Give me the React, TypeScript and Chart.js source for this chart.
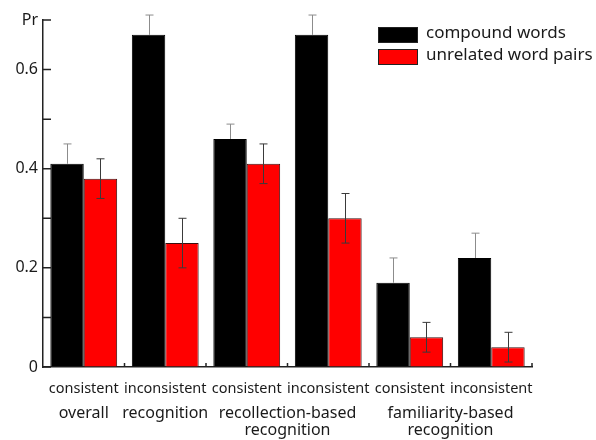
import React, { useEffect, useRef } from "react";
import { Chart, registerables } from "chart.js";
Chart.register(...registerables);

const categories = ["consistent", "inconsistent", "consistent", "inconsistent", "consistent", "inconsistent"];
const groupLabels = [["overall"], ["recognition"], ["recollection-based", "recognition"], ["familiarity-based", "recognition"]];
const groupPositions = [0, 1, 2.5, 4.5];
const seriesNames = ["compound words", "unrelated word pairs"];
const compound = [0.41, 0.67, 0.46, 0.67, 0.17, 0.22];
const compoundErr = [0.04, 0.04, 0.03, 0.04, 0.05, 0.05];
const unrelated = [0.38, 0.25, 0.41, 0.3, 0.06, 0.04];
const unrelatedErr = [0.04, 0.05, 0.04, 0.05, 0.03, 0.03];
const yTickValues = [0, 0.1, 0.2, 0.3, 0.4, 0.5, 0.6, 0.7];
const yTickLabels = ["0", "", "0.2", "", "0.4", "", "0.6", "Pr"];

const FONT = "'Noto Sans', 'Open Sans', sans-serif";
const TEXT = "#1a1a1a";
const colors = ["#000000", "#ff0000"];

const overlay = {
  id: "overlay",
  afterDatasetsDraw(chart: any) {
    const ctx = chart.ctx;
    const y = chart.scales.y;
    const x2 = chart.scales.x2;
    const area = chart.chartArea;
    const vals = [compound, unrelated];
    const errs = [compoundErr, unrelatedErr];
    ctx.save();
    ctx.lineWidth = 1;
    vals.forEach((arr, di) => {
      const meta = chart.getDatasetMeta(di);
      meta.data.forEach((bar: any, i: number) => {
        const v = arr[i];
        const e = errs[di][i];
        const px = Math.round(bar.x) + 0.5;
        const top = y.getPixelForValue(v + e);
        const bot = di === 0 ? y.getPixelForValue(v) : y.getPixelForValue(v - e);
        ctx.strokeStyle = di === 0 ? "#8c8c8c" : "#3a3a3a";
        ctx.beginPath();
        ctx.moveTo(px, top);
        ctx.lineTo(px, bot);
        ctx.moveTo(px - 4, top);
        ctx.lineTo(px + 4, top);
        if (di === 1) {
          ctx.moveTo(px - 4, bot);
          ctx.lineTo(px + 4, bot);
        }
        ctx.stroke();
      });
    });
    // inward ticks
    ctx.strokeStyle = "#222";
    ctx.lineWidth = 1.5;
    ctx.beginPath();
    yTickValues.forEach((v) => {
      const py = y.getPixelForValue(v);
      ctx.moveTo(area.left, py);
      ctx.lineTo(area.left + 8, py);
    });
    for (let i = 0; i < categories.length; i++) {
      const px = x2.getPixelForValue(i + 0.5);
      ctx.moveTo(px, area.bottom);
      ctx.lineTo(px, area.bottom - 4);
    }
    ctx.stroke();
    ctx.restore();
  },
  afterDraw(chart: any) {
    const ctx = chart.ctx;
    ctx.save();
    const boxX = 378;
    const rows = [27, 49];
    ctx.font = `17px ${FONT}`;
    ctx.textBaseline = "middle";
    ctx.textAlign = "left";
    seriesNames.forEach((name, i) => {
      ctx.fillStyle = colors[i];
      ctx.fillRect(boxX, rows[i], 40, 16);
      ctx.strokeStyle = "#222";
      ctx.lineWidth = 1;
      ctx.strokeRect(boxX + 0.5, rows[i] + 0.5, 39, 15);
      ctx.fillStyle = TEXT;
      ctx.fillText(name, 426, rows[i] + 6);
    });
    ctx.restore();
  },
};

export default function App() {
  const ref = useRef<HTMLCanvasElement | null>(null);
  useEffect(() => {
    if (!ref.current) return;
    const chart = new Chart(ref.current, {
      type: "bar",
      data: {
        labels: categories,
        datasets: [
          {
            label: seriesNames[0],
            data: compound,
            backgroundColor: colors[0],
            borderColor: "#000",
            borderWidth: 1,
            categoryPercentage: 0.82,
            barPercentage: 1,
            xAxisID: "x",
          },
          {
            label: seriesNames[1],
            data: unrelated,
            backgroundColor: colors[1],
            borderColor: "#3a1010",
            borderWidth: 1,
            categoryPercentage: 0.82,
            barPercentage: 1,
            xAxisID: "x",
          },
        ],
      },
      options: {
        responsive: false,
        animation: false,
        devicePixelRatio: 1,
        layout: { padding: { top: 20, right: 64, left: 0, bottom: 0 } },
        plugins: { legend: { display: false }, tooltip: { enabled: false } },
        scales: {
          x: {
            type: "category",
            position: "bottom",
            weight: 1,
            offset: true,
            grid: { display: true, drawOnChartArea: false, drawTicks: false },
            border: { display: true, color: "#222", width: 1.5 },
            ticks: {
              color: TEXT,
              font: { family: FONT, size: 14.5 },
              padding: 13,
              autoSkip: false,
              maxRotation: 0,
            },
            afterFit(scale: any) {
              scale.height = 32;
            },
          },
          x2: {
            type: "linear",
            position: "bottom",
            weight: 2,
            min: -0.5,
            max: 5.5,
            offset: false,
            grid: { display: false, drawTicks: false },
            border: { display: false },
            afterBuildTicks(scale: any) {
              scale.ticks = groupPositions.map((v) => ({ value: v }));
            },
            ticks: {
              color: TEXT,
              font: { family: FONT, size: 16, lineHeight: 1.12 },
              padding: 5,
              autoSkip: false,
              maxRotation: 0,
              callback: (value: any) => {
                const idx = groupPositions.indexOf(Number(value));
                return idx >= 0 ? groupLabels[idx] : "";
              },
            },
            afterFit(scale: any) {
              scale.height = 41;
            },
          },
          y: {
            type: "linear",
            min: 0,
            max: 0.7,
            grid: { display: true, drawOnChartArea: false, drawTicks: false },
            border: { display: true, color: "#222", width: 1.5 },
            afterBuildTicks(scale: any) {
              scale.ticks = yTickValues.map((v) => ({ value: v }));
            },
            ticks: {
              color: TEXT,
              font: { family: FONT, size: 16 },
              padding: 5,
              callback: (_v: any, i: number) => yTickLabels[i],
            },
            afterFit(scale: any) {
              scale.width = 43;
            },
          },
        },
      },
      plugins: [overlay],
    } as any);
    return () => chart.destroy();
  }, []);
  return (
    <div style={{ position: "fixed", left: 0, top: 0, width: 596, height: 440, background: "#fff" }}>
      <canvas ref={ref} width={596} height={440} style={{ width: 596, height: 440, display: "block" }} />
    </div>
  );
}
